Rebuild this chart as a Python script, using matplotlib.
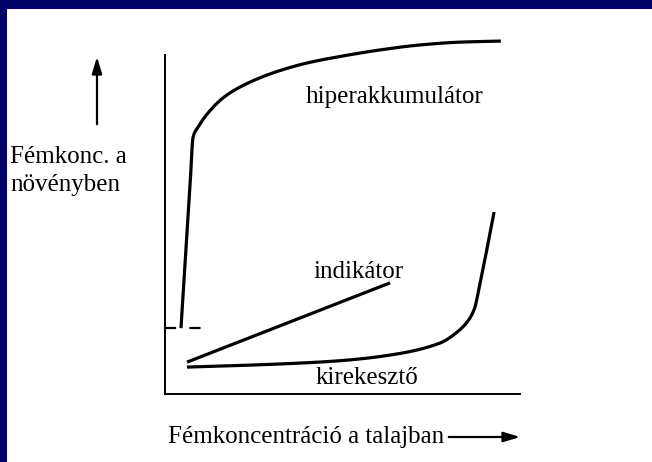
import matplotlib
matplotlib.use("Agg")
import numpy as np
import matplotlib.pyplot as plt
from matplotlib.patches import Rectangle, FancyArrowPatch

# Soil metal concentration (x) vs. plant metal concentration (y), arbitrary units 0-100
hyper_x = [4.5, 5.9, 7.0, 7.9, 9.3, 11.8, 16.3, 21.1, 30.4, 40.0, 48.5, 60.6, 71.8, 83.1, 94.6]
hyper_y = [18.6, 40.7, 57.6, 72.5, 75.4, 79.0, 83.6, 86.7, 90.7, 93.5, 95.2, 97.2, 98.6, 99.4, 99.7]

indicator_x = [6.2, 63.4]
indicator_y = [9.0, 31.4]

excluder_x = [6.2, 16.3, 35.2, 49.3, 63.4, 77.5, 82.3, 85.6, 87.2, 88.4, 92.7]
excluder_y = [7.6, 7.9, 8.6, 9.4, 11.0, 14.4, 17.5, 21.0, 24.2, 29.5, 51.4]

threshold_x = [0.0, 10.4]
threshold_y = [18.6, 18.6]

labels = {
    "hyper": "hiperakkumulátor",
    "indicator": "indikátor",
    "excluder": "kirekesztő",
}
ylabel = "Fémkonc. a\nnövényben"
xlabel = "Fémkoncentráció a talajban"


def pchip(xs, ys, steps=30):
    """Monotone cubic (Fritsch-Carlson) curve through the given points."""
    x = np.asarray(xs, float)
    y = np.asarray(ys, float)
    h = np.diff(x)
    d = np.diff(y) / h
    m = np.zeros_like(y)
    for k in range(1, len(x) - 1):
        if d[k - 1] * d[k] > 0:
            w1 = 2 * h[k] + h[k - 1]
            w2 = h[k] + 2 * h[k - 1]
            m[k] = (w1 + w2) / (w1 / d[k - 1] + w2 / d[k])
    m[0] = d[0]
    m[-1] = d[-1]
    px, py = [], []
    for k in range(len(x) - 1):
        t = np.linspace(0, 1, steps, endpoint=False)
        h00 = 2 * t**3 - 3 * t**2 + 1
        h10 = t**3 - 2 * t**2 + t
        h01 = -2 * t**3 + 3 * t**2
        h11 = t**3 - t**2
        px.append(x[k] + t * h[k])
        py.append(h00 * y[k] + h10 * h[k] * m[k] + h01 * y[k + 1] + h11 * h[k] * m[k + 1])
    px.append([x[-1]])
    py.append([y[-1]])
    return np.concatenate(px), np.concatenate(py)


W, H = 652, 462
fig = plt.figure(figsize=(W / 100, H / 100), dpi=100)
fig.patch.set_facecolor("white")

# navy frame strips on top and left
navy = "#000066"
fig.patches.append(Rectangle((0, 1 - 9 / H), 1, 9 / H, transform=fig.transFigure,
                             facecolor=navy, edgecolor="none", zorder=0))
fig.patches.append(Rectangle((0, 0), 7 / W, 1, transform=fig.transFigure,
                             facecolor=navy, edgecolor="none", zorder=0))

# axes: x from 165 px to 520 px, y from 394 px up to 40 px
x0, x1 = 165, 520
ytop, ybot = 40, 394
ax = fig.add_axes([x0 / W, 1 - ybot / H, (x1 - x0) / W, (ybot - ytop) / H])
ax.set_xlim(0, 100)
ax.set_ylim(0, 100)
ax.patch.set_alpha(0)
for s in ("top", "right"):
    ax.spines[s].set_visible(False)
ax.spines["left"].set_linewidth(1.4)
ax.spines["bottom"].set_linewidth(1.4)
ax.spines["left"].set_bounds(0, (ybot - 55) / (ybot - ytop) * 100)
ax.set_xticks([])
ax.set_yticks([])

lw = 2.3
hx, hy = pchip(hyper_x, hyper_y)
ax.plot(hx, hy, color="black", lw=lw, solid_capstyle="butt", clip_on=False)
ax.plot(indicator_x, indicator_y, color="black", lw=lw, solid_capstyle="butt")
ex, ey = pchip(excluder_x, excluder_y)
ax.plot(ex, ey, color="black", lw=lw, solid_capstyle="butt")
ax.plot(threshold_x, threshold_y, color="black", lw=1.6, dashes=(5, 6))

font = dict(family="Liberation Serif", size=18, color="black")
ax.text(64.6, 84.0, labels["hyper"], ha="center", va="center", **font)
ax.text(54.4, 34.5, labels["indicator"], ha="center", va="center", **font)
ax.text(56.9, 4.5, labels["excluder"], ha="center", va="center", **font)

fig.text(10 / W, 1 - 171 / H, ylabel, ha="left", va="center", linespacing=1.3, **font)
fig.text(168 / W, 1 - 437 / H, xlabel, ha="left", va="center", **font)

# direction arrows
fig.add_artist(FancyArrowPatch(
    (97 / W, 1 - 127 / H), (97 / W, 1 - 54 / H), transform=fig.transFigure,
    arrowstyle="-|>,head_length=10,head_width=3", color="black", lw=1.6))
fig.add_artist(FancyArrowPatch(
    (446 / W, 1 - 437 / H), (523 / W, 1 - 437 / H), transform=fig.transFigure,
    arrowstyle="-|>,head_length=10,head_width=3", color="black", lw=1.6))

fig.savefig("out.png", dpi=100)
